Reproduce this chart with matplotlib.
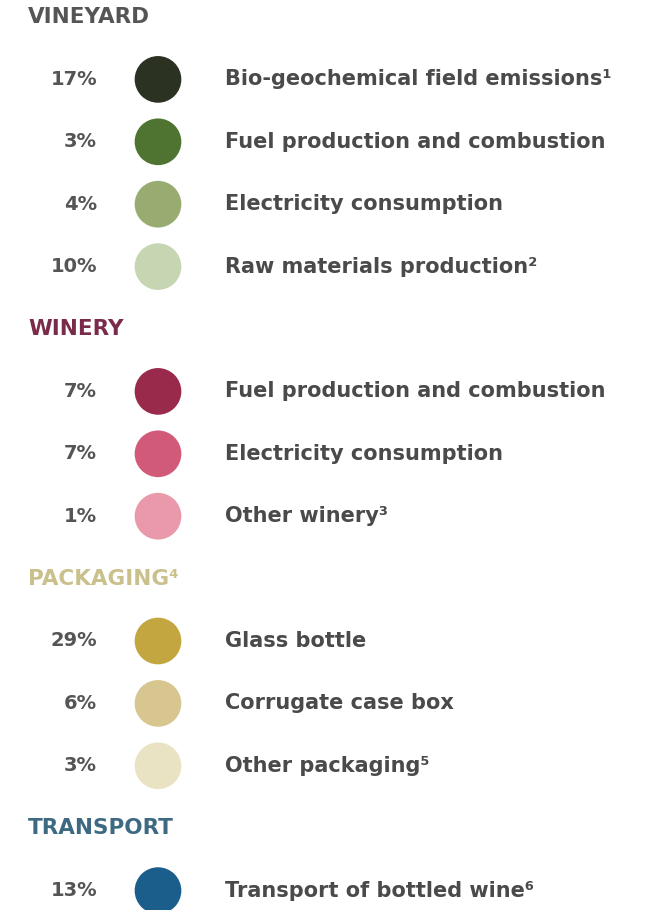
import matplotlib
matplotlib.use("Agg")
import matplotlib.pyplot as plt

# stage groups of the wine life cycle (share of emissions)
groups = ["VINEYARD", "WINERY", "PACKAGING\u2074", "TRANSPORT"]
group_colors = ["#555555", "#7a2a4a", "#c9c08c", "#3d6a82"]

vineyard_labels = ["Bio-geochemical field emissions\u00b9",
                   "Fuel production and combustion",
                   "Electricity consumption",
                   "Raw materials production\u00b2"]
vineyard_pct = [17, 3, 4, 10]
vineyard_colors = ["#2b3222", "#4f7431", "#98ac72", "#c6d6b2"]

winery_labels = ["Fuel production and combustion",
                 "Electricity consumption",
                 "Other winery\u00b3"]
winery_pct = [7, 7, 1]
winery_colors = ["#992a4c", "#d25a79", "#e999aa"]

packaging_labels = ["Glass bottle", "Corrugate case box", "Other packaging\u2075"]
packaging_pct = [29, 6, 3]
packaging_colors = ["#c4a640", "#d7c690", "#eae3c3"]

transport_labels = ["Transport of bottled wine\u2076"]
transport_pct = [13]
transport_colors = ["#1b5e8b"]

rows = [(vineyard_labels, vineyard_pct, vineyard_colors),
        (winery_labels, winery_pct, winery_colors),
        (packaging_labels, packaging_pct, packaging_colors),
        (transport_labels, transport_pct, transport_colors)]

fam = "DejaVu Sans"
txt = "#4a4a4a"

fig = plt.figure(figsize=(6.54, 9.10), dpi=100)
ax = fig.add_axes([0, 0, 1, 1])
ax.set_xlim(0, 654)
ax.set_ylim(910, 0)
ax.axis("off")

step = 62.4
y = 17
for g, gc, (labs, pcts, cols) in zip(groups, group_colors, rows):
    ax.text(28, y, g, color=gc, fontsize=15.5, fontweight="bold", family=fam,
            va="center", ha="left")
    y += step
    for lab, p, c in zip(labs, pcts, cols):
        ax.text(97, y, f"{p}%", color="#555555", fontsize=14, fontweight="bold",
                family=fam, va="center", ha="right")
        ax.scatter([158], [y], s=1130, color=c, edgecolors="none")
        ax.text(225, y, lab, color=txt, fontsize=15, fontweight="bold",
                family=fam, va="center", ha="left")
        y += step

fig.savefig("out.png", dpi=100, facecolor="white")
